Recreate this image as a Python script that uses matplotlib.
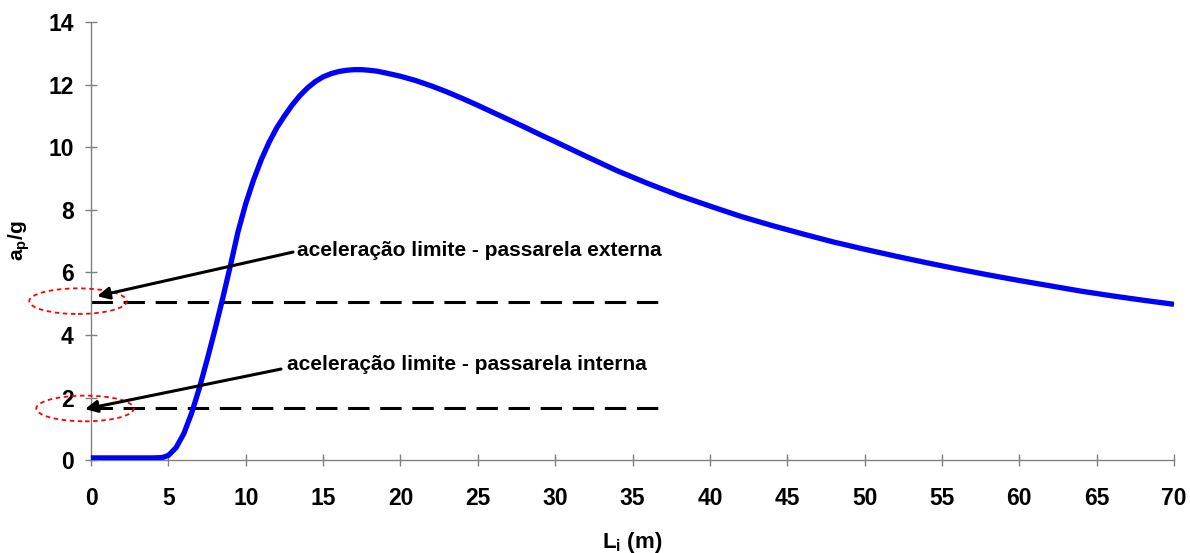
import matplotlib
matplotlib.use("Agg")
import matplotlib.pyplot as plt
from matplotlib.patches import Ellipse

plt.rcParams['font.family'] = ['Liberation Sans', 'DejaVu Sans']
plt.rcParams['font.weight'] = 'bold'

# curve
span_m = [0, 2, 4, 4.6, 5.0, 5.5, 6.0, 6.5, 7.0, 7.5, 8.0, 8.5, 9.0, 9.5,
          10.0, 10.5, 11.0, 11.5, 12.0, 12.5, 13.0, 13.5, 14.0, 14.5, 15.0,
          15.5, 16.0, 16.5, 17.0, 17.5, 18.0, 18.5, 19, 20, 21, 22, 23, 24,
          25, 26, 27, 28, 29, 30, 32, 34, 36, 38, 40, 42, 44, 46, 48, 50, 52,
          54, 56, 58, 60, 62, 64, 66, 68, 70]
accel_ratio = [0.07, 0.07, 0.07, 0.08, 0.15, 0.4, 0.85, 1.5, 2.3, 3.2, 4.15,
               5.15, 6.2, 7.3, 8.2, 8.95, 9.6, 10.15, 10.62, 11.0, 11.35,
               11.65, 11.9, 12.1, 12.25, 12.35, 12.42, 12.46, 12.48, 12.48,
               12.46, 12.43, 12.38, 12.27, 12.13, 11.96, 11.77, 11.56, 11.34,
               11.11, 10.88, 10.65, 10.41, 10.18, 9.71, 9.25, 8.84, 8.46, 8.12,
               7.79, 7.50, 7.23, 6.97, 6.74, 6.52, 6.31, 6.11, 5.92, 5.74,
               5.57, 5.40, 5.25, 5.11, 4.98]

limit_ext = 5.05
limit_int = 1.65
limit_x_end = 37.2

x_ticks = list(range(0, 75, 5))
y_ticks = list(range(0, 16, 2))

fig = plt.figure(figsize=(11.9, 5.53), dpi=100)
ax = fig.add_axes([0.0765, 0.168, 0.9101, 0.792])

ax.plot(span_m, accel_ratio, color='#0000ff', lw=3.8, solid_capstyle='butt',
        solid_joinstyle='round', zorder=3)
ax.plot([0, limit_x_end], [limit_ext, limit_ext], color='black', lw=2.2,
        dashes=(7, 3.5), zorder=2)
ax.plot([0, limit_x_end], [limit_int, limit_int], color='black', lw=2.2,
        dashes=(7, 3.5), zorder=2)

# red dashed ellipses round the limits on the axis
for cx, cy in [(-0.84, 5.08), (-0.39, 1.65)]:
    ax.add_patch(Ellipse((cx, cy), 6.3, 0.82, fill=False, edgecolor='red',
                         lw=1.3, ls=(0, (2.5, 2)), clip_on=False, zorder=4))

arrow = dict(arrowstyle='-|>', color='black', lw=2.2, mutation_scale=18,
             shrinkA=0, shrinkB=0)
ax.annotate('', xy=(0.39, 5.24), xytext=(13.06, 6.65), arrowprops=arrow,
            annotation_clip=False, zorder=5)
ax.annotate('', xy=(-0.39, 1.63), xytext=(12.28, 2.91), arrowprops=arrow,
            annotation_clip=False, zorder=5)
ax.text(13.3, 6.71, 'aceleração limite - passarela externa', fontsize=15,
        fontweight='bold', va='center', ha='left')
ax.text(12.67, 3.07, 'aceleração limite - passarela interna', fontsize=15,
        fontweight='bold', va='center', ha='left')

ax.set_xlim(0, 70)
ax.set_ylim(0, 14)
ax.set_xticks(x_ticks)
ax.set_yticks(y_ticks)
ax.tick_params(axis='both', direction='inout', length=9, width=1,
               color='#808080', labelsize=16.5)
ax.tick_params(axis='x', pad=15)
ax.tick_params(axis='y', pad=8)
for lbl in ax.get_xticklabels() + ax.get_yticklabels():
    lbl.set_fontweight('bold')

for side in ['top', 'right']:
    ax.spines[side].set_visible(False)
for side in ['left', 'bottom']:
    ax.spines[side].set_color('#808080')
    ax.spines[side].set_linewidth(1)

ax.set_xlabel(r'L$_\mathregular{i}$ (m)', fontsize=16, fontweight='bold',
              labelpad=14)
ax.set_ylabel(r'a$_\mathregular{p}$/g', fontsize=15, fontweight='bold',
              labelpad=12)

fig.savefig('out.png', dpi=100)
